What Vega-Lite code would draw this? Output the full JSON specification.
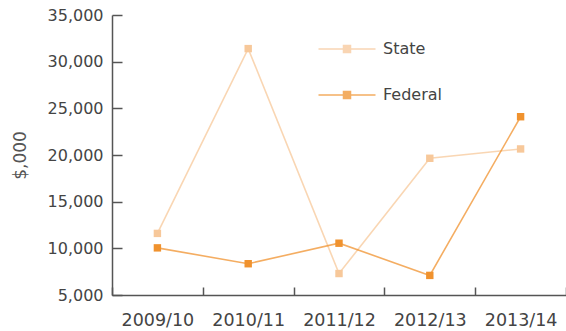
{
  "$schema": "https://vega.github.io/schema/vega-lite/v6.json",
  "width": 454,
  "height": 280,
  "autosize": "none",
  "padding": {"left": 112, "top": 15, "right": 0, "bottom": 36},
  "background": "white",
  "config": {"view": {"stroke": null}},
  "data": {"values": [
    {"year": "2009/10", "series": "State", "value": 11600},
    {"year": "2010/11", "series": "State", "value": 31400},
    {"year": "2011/12", "series": "State", "value": 7300},
    {"year": "2012/13", "series": "State", "value": 19650},
    {"year": "2013/14", "series": "State", "value": 20650},
    {"year": "2009/10", "series": "Federal", "value": 10050},
    {"year": "2010/11", "series": "Federal", "value": 8350},
    {"year": "2011/12", "series": "Federal", "value": 10550},
    {"year": "2012/13", "series": "Federal", "value": 7100},
    {"year": "2013/14", "series": "Federal", "value": 24100}
  ]},
  "encoding": {
    "x": {"field": "year", "type": "ordinal", "scale": {"paddingInner": 0, "paddingOuter": 0},
      "axis": {"title": null, "labelAngle": 0, "tickBand": "extent", "tickSize": -8, "labelPadding": 24,
        "domainColor": "#555", "domainWidth": 1.5, "tickColor": "#555", "tickWidth": 1.5,
        "labelFont": "DejaVu Sans", "labelFontSize": 17.5, "labelColor": "#444"}},
    "y": {"field": "value", "type": "quantitative", "scale": {"domain": [5000, 35000], "zero": false, "nice": false},
      "axis": {"title": "$,000", "values": [5000, 10000, 15000, 20000, 25000, 30000, 35000], "format": ",.0f", "grid": false,
        "tickSize": -10, "labelPadding": 19, "domainColor": "#555", "domainWidth": 1.5, "tickColor": "#555", "tickWidth": 1.5,
        "labelFont": "DejaVu Sans", "labelFontSize": 16, "labelColor": "#444",
        "titleFont": "DejaVu Sans", "titleFontSize": 17, "titleFontWeight": "normal", "titleColor": "#555", "titlePadding": 18}},
    "color": {"field": "series", "type": "nominal",
      "scale": {"domain": ["State", "Federal"], "range": ["#f7c89a", "#f0922e"]},
      "legend": {"title": null, "orient": "none", "legendX": 227, "legendY": 26,
        "symbolType": "M-5.7,0H-0.7M0.7,0H5.7M-0.7,-0.7H0.7V0.7H-0.7Z", "symbolSize": 100, "symbolStrokeWidth": 1.5,
        "labelFont": "DejaVu Sans", "labelFontSize": 16, "labelColor": "#444", "labelOffset": 28, "rowPadding": 30,
        "encode": {"symbols": {"update": {"fill": {"scale": "color", "field": "value"}, "stroke": {"scale": "color", "field": "value"}}}}}}
  },
  "layer": [
    {"mark": {"type": "line", "strokeWidth": 1.6, "opacity": 0.75}},
    {"mark": {"type": "point", "shape": "square", "filled": true, "size": 55, "opacity": 1}}
  ]
}
